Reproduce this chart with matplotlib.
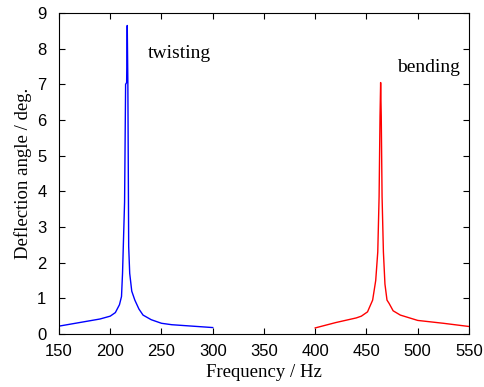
import numpy as np
import matplotlib
matplotlib.use('Agg')
import matplotlib.pyplot as plt

# twisting mode (blue)
f_twist = [150, 170, 190, 200, 205, 209, 211, 212, 213, 214, 215, 216,
           216.6, 217.2, 218, 219, 221, 224, 228, 232, 240, 250, 260, 280, 300]
a_twist = [0.22, 0.32, 0.42, 0.50, 0.60, 0.82, 1.05, 1.7, 2.7, 3.7, 7.0, 7.05,
           8.65, 7.05, 2.45, 1.7, 1.2, 0.95, 0.7, 0.53, 0.40, 0.30, 0.26, 0.22, 0.18]

# bending mode (red)
f_bend = [400, 420, 440, 445, 451, 456, 459, 461, 462.3, 463.2, 463.8, 464.4,
          465.2, 466.5, 468, 470, 472, 476, 483, 500, 525, 550]
a_bend = [0.17, 0.32, 0.45, 0.50, 0.62, 0.95, 1.5, 2.3, 3.85, 6.1, 7.05, 6.1,
          3.85, 2.3, 1.4, 0.95, 0.86, 0.65, 0.53, 0.38, 0.30, 0.21]

xticks = [150, 200, 250, 300, 350, 400, 450, 500, 550]
yticks = list(range(10))

fig = plt.figure(figsize=(4.85, 3.87), dpi=100)
ax = fig.add_axes([0.1216, 0.137, 0.8454, 0.8294])

ax.plot(f_twist, a_twist, color='blue', lw=1.0)
ax.plot(f_bend, a_bend, color='red', lw=1.0)

ax.set_xlim(150, 550)
ax.set_ylim(0, 9)
ax.set_xticks(xticks)
ax.set_yticks(yticks)
ax.tick_params(direction='in', top=True, right=True, length=4, width=0.8,
               labelsize=12)
ax.tick_params(axis='x', pad=7)
ax.tick_params(axis='y', pad=9)
for lab in ax.get_xticklabels() + ax.get_yticklabels():
    lab.set_family('Liberation Sans')
for s in ax.spines.values():
    s.set_linewidth(0.8)

ax.set_xlabel('Frequency / Hz', family='Liberation Serif', fontsize=13.5, labelpad=4)
ax.set_ylabel('Deflection angle / deg.', family='Liberation Serif', fontsize=13.5, labelpad=4)

ax.text(237, 7.74, 'twisting', family='Liberation Serif', fontsize=14, va='baseline')
ax.text(479.4, 7.35, 'bending', family='Liberation Serif', fontsize=14, va='baseline')

plt.savefig('out.png', dpi=100)
